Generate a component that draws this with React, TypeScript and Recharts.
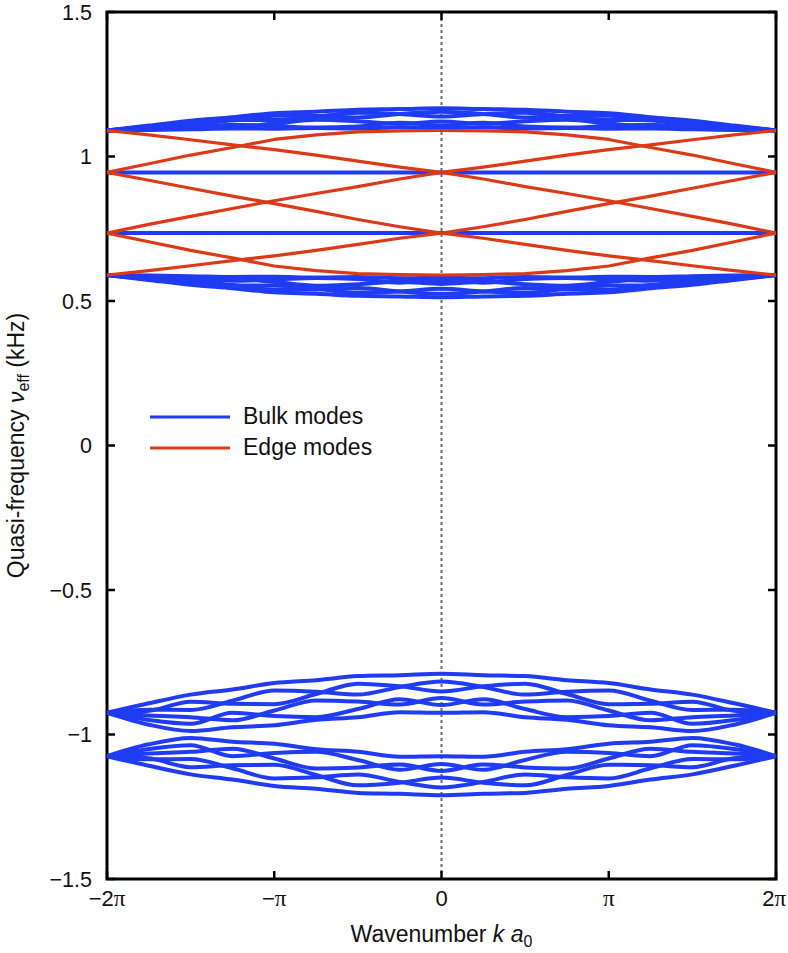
import React from 'react';
import { LineChart, Line, XAxis, YAxis, ReferenceLine, ReferenceArea, Legend } from 'recharts';

// Wavenumber k a0 in units of pi
const kValues = [-2, -1.75, -1.5, -1.25, -1, -0.75, -0.5, -0.25, 0, 0.25, 0.5, 0.75, 1, 1.25, 1.5, 1.75, 2];
const xTicks = [-2, -1, 0, 1, 2];
const xTickPrefix = ['\u22122', '\u2212', '', '', '2'];
const xTickPi = ['\u03c0', '\u03c0', '0', '\u03c0', '\u03c0'];
const yTicks = [1.5, 1, 0.5, 0, -0.5, -1, -1.5];
const yTickLabels = ['1.5', '1', '0.5', '0', '\u22120.5', '\u22121', '\u22121.5'];
const legendLabels = ['Bulk modes', 'Edge modes'];

// Values at |k| = 0, 0.25, ..., 2 (band structure is symmetric in k)
// Upper positive bulk band
const p1a = [1.167, 1.164, 1.162, 1.155, 1.150, 1.136, 1.124, 1.107, 1.090];
const p1b = [1.155, 1.147, 1.135, 1.140, 1.141, 1.125, 1.111, 1.104, 1.090];
const p1c = [1.138, 1.147, 1.151, 1.138, 1.126, 1.126, 1.119, 1.103, 1.090];
const p1d = [1.121, 1.113, 1.122, 1.127, 1.114, 1.103, 1.104, 1.100, 1.090];
const p1e = [1.107, 1.117, 1.104, 1.100, 1.106, 1.110, 1.099, 1.094, 1.090];
const p1f = [1.099, 1.101, 1.097, 1.099, 1.096, 1.097, 1.094, 1.092, 1.090];
// Lower positive bulk band
const p2a = [0.513, 0.516, 0.518, 0.525, 0.530, 0.544, 0.556, 0.573, 0.590];
const p2b = [0.525, 0.533, 0.545, 0.540, 0.539, 0.555, 0.569, 0.576, 0.590];
const p2c = [0.542, 0.533, 0.529, 0.542, 0.554, 0.554, 0.561, 0.577, 0.590];
const p2d = [0.559, 0.567, 0.558, 0.553, 0.566, 0.577, 0.576, 0.580, 0.590];
const p2e = [0.573, 0.563, 0.576, 0.580, 0.574, 0.570, 0.581, 0.586, 0.590];
const p2f = [0.581, 0.579, 0.583, 0.581, 0.584, 0.583, 0.586, 0.588, 0.590];
// Upper negative bulk band
const n1a = [-0.790, -0.795, -0.798, -0.812, -0.822, -0.844, -0.862, -0.892, -0.925];
const n1b = [-0.817, -0.836, -0.862, -0.852, -0.848, -0.883, -0.915, -0.914, -0.925];
const n1c = [-0.851, -0.833, -0.824, -0.860, -0.895, -0.894, -0.887, -0.918, -0.925];
const n1d = [-0.874, -0.896, -0.886, -0.882, -0.917, -0.951, -0.940, -0.934, -0.925];
const n1e = [-0.898, -0.878, -0.912, -0.940, -0.936, -0.925, -0.963, -0.950, -0.925];
const n1f = [-0.925, -0.923, -0.940, -0.949, -0.968, -0.975, -0.988, -0.966, -0.925];
// Lower negative bulk band
const n2a = [-1.210, -1.205, -1.202, -1.188, -1.178, -1.156, -1.138, -1.108, -1.075];
const n2b = [-1.183, -1.164, -1.138, -1.148, -1.152, -1.117, -1.085, -1.086, -1.075];
const n2c = [-1.149, -1.167, -1.176, -1.140, -1.105, -1.106, -1.113, -1.082, -1.075];
const n2d = [-1.126, -1.104, -1.114, -1.118, -1.083, -1.049, -1.060, -1.066, -1.075];
const n2e = [-1.102, -1.122, -1.088, -1.060, -1.064, -1.075, -1.037, -1.050, -1.075];
const n2f = [-1.075, -1.077, -1.060, -1.051, -1.032, -1.025, -1.012, -1.034, -1.075];
// Flat bulk modes inside the gap
const flatHigh = [0.945, 0.945, 0.945, 0.945, 0.945, 0.945, 0.945, 0.945, 0.945];
const flatLow = [0.735, 0.735, 0.735, 0.735, 0.735, 0.735, 0.735, 0.735, 0.735];
// Edge modes
const edgeA = [0.945, 0.963, 0.984, 1.005, 1.024, 1.040, 1.058, 1.075, 1.090];
const edgeB = [1.090, 1.089, 1.085, 1.075, 1.059, 1.031, 1.005, 0.975, 0.945];
const edgeC = [0.735, 0.757, 0.782, 0.810, 0.837, 0.863, 0.890, 0.918, 0.945];
const edgeD = [0.945, 0.922, 0.896, 0.872, 0.847, 0.820, 0.793, 0.765, 0.735];
const edgeE = [0.590, 0.591, 0.595, 0.605, 0.621, 0.649, 0.675, 0.705, 0.735];
const edgeF = [0.735, 0.717, 0.696, 0.675, 0.656, 0.640, 0.622, 0.605, 0.590];

const bulkBands = [p1a, p1b, p1c, p1d, p1e, p1f, p2a, p2b, p2c, p2d, p2e, p2f,
  n1a, n1b, n1c, n1d, n1e, n1f, n2a, n2b, n2c, n2d, n2e, n2f];
const bulkFlat = [flatHigh, flatLow];
const edgeModes = [edgeA, edgeB, edgeC, edgeD, edgeE, edgeF];

const mid = (kValues.length - 1) / 2;
const data = kValues.map((k, i) => {
  const h = Math.abs(i - mid);
  const row: Record<string, number> = { k };
  bulkBands.forEach((arr, j) => { row['b' + j] = arr[h]; });
  bulkFlat.forEach((arr, j) => { row['f' + j] = arr[h]; });
  edgeModes.forEach((arr, j) => { row['e' + j] = arr[h]; });
  return row;
});

const BLUE = '#1f3cf4';
const RED = '#dc3a16';
const FONT = '"Liberation Sans", Arial, Helvetica, sans-serif';
const SERIF = '"Liberation Serif", "Times New Roman", serif';

const W = 788;
const H = 953;
const M = { top: 12, right: 12, bottom: 13, left: 38 };
const Y_AXIS_W = 69;
const X_AXIS_H = 61;
const PLOT_L = M.left + Y_AXIS_W;
const PLOT_R = W - M.right;
const PLOT_T = M.top;
const PLOT_B = H - M.bottom - X_AXIS_H;
const TICK_LEN = 8;

const XTick = (props: any) => {
  const { x, payload } = props;
  const idx = xTicks.indexOf(payload.value);
  const isPi = xTickPi[idx] === '\u03c0';
  const last = idx === xTicks.length - 1;
  return (
    <g>
      <line x1={x} x2={x} y1={PLOT_B} y2={PLOT_B - TICK_LEN} stroke="#000" strokeWidth={2.5} />
      <line x1={x} x2={x} y1={PLOT_T} y2={PLOT_T + TICK_LEN} stroke="#000" strokeWidth={2.5} />
      <text x={last ? x + 10 : x} y={PLOT_B + 27} textAnchor={last ? 'end' : 'middle'}
        fontFamily={FONT} fontSize={22} fill="#111">
        {xTickPrefix[idx]}
        {isPi ? <tspan fontFamily={SERIF} fontSize={23}>{'\u03c0'}</tspan> : xTickPi[idx]}
      </text>
    </g>
  );
};

const YTick = (props: any) => {
  const { y, payload } = props;
  const idx = yTicks.indexOf(payload.value);
  return (
    <g>
      <line x1={PLOT_L} x2={PLOT_L + TICK_LEN} y1={y} y2={y} stroke="#000" strokeWidth={2.5} />
      <line x1={PLOT_R} x2={PLOT_R - TICK_LEN} y1={y} y2={y} stroke="#000" strokeWidth={2.5} />
      <text x={PLOT_L - 15} y={y + 7.5} textAnchor="end" fontFamily={FONT} fontSize={21.5} fill="#111">
        {yTickLabels[idx]}
      </text>
    </g>
  );
};

const XTitle = () => (
  <text x={(PLOT_L + PLOT_R) / 2} y={H - 11} textAnchor="middle" fontFamily={FONT} fontSize={23} fill="#111">
    Wavenumber <tspan fontStyle="italic">k</tspan> <tspan fontStyle="italic">a</tspan>
    <tspan fontSize={16} dy={5}>0</tspan>
  </text>
);

const YTitle = () => {
  const cx = 24;
  const cy = (PLOT_T + PLOT_B) / 2;
  return (
    <text x={cx} y={cy} transform={`rotate(-90, ${cx}, ${cy})`} textAnchor="middle" fontFamily={FONT} fontSize={23} fill="#111">
      Quasi-frequency <tspan fontStyle="italic">{'\u03bd'}</tspan>
      <tspan fontSize={16} dy={5}>eff</tspan>
      <tspan dy={-5}> (kHz)</tspan>
    </text>
  );
};

const LegendBox = () => (
  <div style={{ fontFamily: FONT, fontSize: 23, color: '#111', lineHeight: '31px' }}>
    {legendLabels.map((lab, i) => (
      <div key={lab} style={{ display: 'flex', alignItems: 'center', height: 31 }}>
        <svg width={82} height={6} style={{ marginRight: 12 }}>
          <line x1={1} x2={81} y1={3} y2={3} stroke={i === 0 ? BLUE : RED} strokeWidth={3.2} />
        </svg>
        <span>{lab}</span>
      </div>
    ))}
  </div>
);

export default function App() {
  return (
    <div style={{ position: 'absolute', left: 0, top: 0, width: W, height: H, overflow: 'hidden' }}>
      <LineChart width={W} height={H} data={data} margin={M}>
        <XAxis
          dataKey="k"
          type="number"
          domain={[-2, 2]}
          ticks={xTicks}
          axisLine={false}
          tickLine={false}
          tick={<XTick />}
          height={X_AXIS_H}
          interval={0}
          label={{ content: () => <XTitle /> }}
        />
        <YAxis
          type="number"
          domain={[-1.5, 1.5]}
          ticks={yTicks}
          axisLine={false}
          tickLine={false}
          tick={<YTick />}
          width={Y_AXIS_W}
          interval={0}
          label={{ content: () => <YTitle /> }}
        />
        <ReferenceLine x={0} stroke="#6a6a6a" strokeWidth={2} strokeDasharray="3 3" />
        {bulkBands.map((_, j) => (
          <Line key={'b' + j} dataKey={'b' + j} type="monotone" stroke={BLUE} strokeWidth={4}
            dot={false} activeDot={false} isAnimationActive={false} />
        ))}
        {bulkFlat.map((_, j) => (
          <Line key={'f' + j} dataKey={'f' + j} type="linear" stroke={BLUE} strokeWidth={4}
            dot={false} activeDot={false} isAnimationActive={false} />
        ))}
        {edgeModes.map((_, j) => (
          <Line key={'e' + j} dataKey={'e' + j} type="linear" stroke={RED} strokeWidth={3.2}
            strokeLinejoin="round" dot={false} activeDot={false} isAnimationActive={false} />
        ))}
        <ReferenceArea x1={-2} x2={2} y1={-1.5} y2={1.5} fill="none" fillOpacity={0}
          stroke="#000" strokeWidth={3} strokeOpacity={1} />
        <Legend
          layout="vertical"
          align="center"
          verticalAlign="middle"
          wrapperStyle={{ left: 149, top: 401, width: 'auto' }}
          content={() => <LegendBox />}
        />
      </LineChart>
    </div>
  );
}
